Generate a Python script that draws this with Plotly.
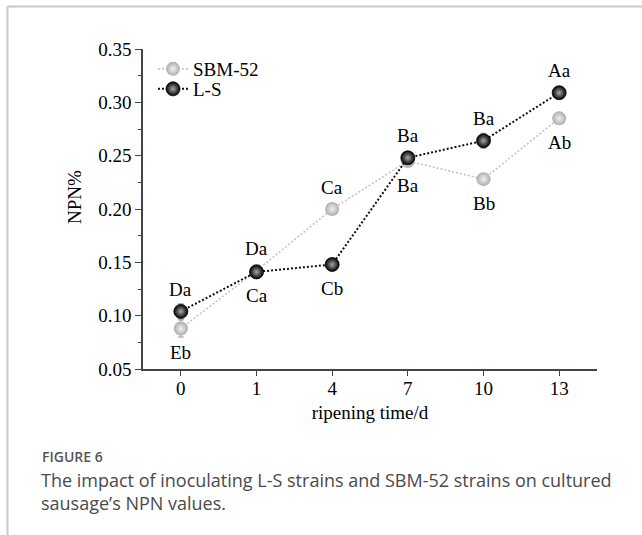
import plotly.graph_objects as go

# Ripening time points (days) and NPN content (%) for the two inoculated groups
days = ["0", "1", "4", "7", "10", "13"]
sbm52_npn = [0.088, 0.142, 0.200, 0.245, 0.228, 0.285]
sbm52_err = [0.008, 0.005, 0.004, 0.005, 0.003, 0.003]
sbm52_sig = ["Eb", "Da", "Ca", "Ba", "Bb", "Ab"]
ls_npn = [0.104, 0.141, 0.148, 0.248, 0.264, 0.309]
ls_err = [0.007, 0.004, 0.003, 0.004, 0.007, 0.003]
ls_sig = ["Da", "Ca", "Cb", "Ba", "Ba", "Aa"]

W, H = 642, 535
L, R, T, B = 143, 45, 49, 166
PW, PH = W - L - R, H - T - B

SERIF = "Liberation Serif"
SANS = "Open Sans"
FS = 19


def px_x(x):
    return (x - L) / PW


def px_y(y):
    return (H - B - y) / PH


fig = go.Figure()

fig.add_trace(go.Scatter(
    x=days, y=sbm52_npn, name="SBM-52", mode="lines+markers", legend="legend",
    line=dict(color="#c4c4c4", width=1.6, dash="2px,2px"),
    marker=dict(size=14, color="#adadad", line=dict(width=0),
                gradient=dict(type="radial", color="#f0f0f0")),
    error_y=dict(type="data", array=sbm52_err, color="#a0a0a0",
                 thickness=1.2, width=3),
))
fig.add_trace(go.Scatter(
    x=days, y=ls_npn, name="L-S", mode="lines+markers", legend="legend2",
    line=dict(color="#111111", width=2, dash="2px,2px"),
    marker=dict(size=14, color="#000000", line=dict(width=0.8, color="#000"),
                gradient=dict(type="radial", color="#a8a8a8")),
    error_y=dict(type="data", array=ls_err, color="#a0a0a0",
                 thickness=1.2, width=3),
))

# Significance letters: the higher point at each day is labelled above, the lower below.
# Category positions are given by index so numeric-looking labels are not misread.
annotations = []
for i in range(len(days)):
    pairs = [(sbm52_npn[i], sbm52_sig[i]), (ls_npn[i], ls_sig[i])]
    hi, lo = sorted(pairs, key=lambda p: p[0], reverse=True)
    annotations.append(dict(x=i, y=hi[0], text=hi[1], showarrow=False,
                            yshift=22, font=dict(family=SERIF, size=FS, color="#000")))
    annotations.append(dict(x=i, y=lo[0], text=lo[1], showarrow=False,
                            yshift=-24, font=dict(family=SERIF, size=FS, color="#000")))

# Y-axis title
annotations.append(dict(xref="paper", yref="paper", x=px_x(74), y=px_y(197),
                        xanchor="center", yanchor="middle",
                        text="NPN%", textangle=-90, showarrow=False,
                        font=dict(family=SERIF, size=FS, color="#000")))

# Figure caption
annotations.append(dict(xref="paper", yref="paper", x=px_x(40), y=px_y(456),
                        xanchor="left", yanchor="middle", text="FIGURE 6",
                        showarrow=False,
                        font=dict(family=SANS, size=14, color="#555555", weight=600)))
annotations.append(dict(xref="paper", yref="paper", x=px_x(39), y=px_y(491),
                        xanchor="left", yanchor="middle", align="left",
                        text="The impact of inoculating L-S strains and SBM-52 strains on cultured<br>sausage\u2019s NPN values.",
                        showarrow=False,
                        font=dict(family=SANS, size=18, color="#4a4a4a")))

# Page frame lines (top and left)
shapes = [
    dict(type="line", xref="paper", yref="paper", x0=px_x(7.5), x1=px_x(W + 2),
         y0=px_y(6.5), y1=px_y(6.5), line=dict(color="#c8c8c8", width=2)),
    dict(type="line", xref="paper", yref="paper", x0=px_x(7.5), x1=px_x(7.5),
         y0=px_y(6.5), y1=px_y(H + 2), line=dict(color="#c8c8c8", width=2)),
]

legend_style = dict(xanchor="left", yanchor="top", bgcolor="rgba(0,0,0,0)",
                    font=dict(family=SERIF, size=FS, color="#000"), itemwidth=30)

fig.update_layout(
    width=W, height=H,
    margin=dict(l=L, r=R, t=T, b=B),
    paper_bgcolor="white", plot_bgcolor="white",
    showlegend=True,
    legend=dict(x=px_x(153), y=px_y(50), **legend_style),
    legend2=dict(x=px_x(153), y=px_y(70), **legend_style),
    annotations=annotations,
    shapes=shapes,
)

fig.update_xaxes(
    type="category", range=[-0.5, 5.5],
    showline=True, linecolor="#444444", linewidth=1.6, mirror=False,
    ticks="outside", ticklen=5, tickwidth=1.4, tickcolor="#444444",
    ticklabelstandoff=-4,
    showgrid=False, zeroline=False,
    tickfont=dict(family=SERIF, size=FS, color="#000"),
    title=dict(text="ripening time/d", standoff=8,
               font=dict(family=SERIF, size=FS, color="#000")),
)
fig.update_yaxes(
    range=[0.05, 0.35], dtick=0.05, tick0=0.05, tickformat=".2f",
    showline=True, linecolor="#444444", linewidth=1.6,
    ticks="outside", ticklen=6, tickwidth=1.4, tickcolor="#444444",
    minor=dict(dtick=0.025, ticks="outside", ticklen=3, tickcolor="#444444", showgrid=False),
    showgrid=False, zeroline=False,
    tickfont=dict(family=SERIF, size=FS, color="#000"),
)

fig.write_html("out.html")
